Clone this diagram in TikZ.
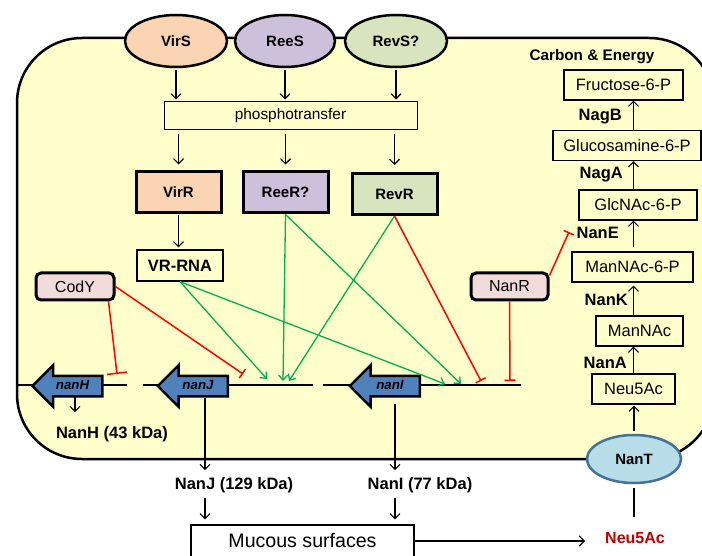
\documentclass[tikz,border=0pt]{standalone}
\usepackage{fontspec}
\setmainfont{Liberation Sans}
\usetikzlibrary{arrows.meta,shapes.geometric,shapes.arrows}

\definecolor{cellyellow}{RGB}{255,255,204}
\definecolor{virpeach}{RGB}{251,212,180}
\definecolor{reelilac}{RGB}{204,192,218}
\definecolor{revgreen}{RGB}{215,228,189}
\definecolor{reppink}{RGB}{242,220,219}
\definecolor{geneblue}{RGB}{79,129,189}
\definecolor{nantblue}{RGB}{183,222,232}
\definecolor{nantline}{RGB}{65,113,156}
\definecolor{actgreen}{RGB}{0,176,80}
\definecolor{darkred}{RGB}{192,0,0}

\tikzset{
  sensor/.style={ellipse,draw,line width=2.5pt,minimum width=102pt,minimum height=52pt,inner sep=0pt,font=\fontsize{15}{18}\selectfont\bfseries},
  regbox/.style={draw,line width=3pt,minimum width=85pt,minimum height=41pt,inner sep=0pt,font=\fontsize{15}{18}\selectfont\bfseries},
  repbox/.style={draw,rounded corners=5pt,line width=3pt,fill=reppink,minimum width=78pt,minimum height=27pt,inner sep=0pt,font=\fontsize{16}{19}\selectfont},
  sugar/.style={draw,line width=1.2pt,minimum height=30pt,inner sep=0pt,font=\fontsize{16.5}{19}\selectfont},
  enz/.style={anchor=east,inner sep=1pt,font=\fontsize{16.5}{19}\selectfont\bfseries},
  prot/.style={inner sep=1pt,font=\fontsize{16.5}{19}\selectfont\bfseries},
  gene/.style={single arrow,draw,line width=2.5pt,fill=geneblue,shape border rotate=180,single arrow head extend=10.5pt,minimum height=70pt,inner xsep=2pt,inner ysep=3pt,text height=9pt,text depth=3pt,font=\fontsize{13.3}{16}\selectfont\bfseries\itshape},
  flow/.style={line width=1.1pt,-{Straight Barb[length=5pt,width=10pt]}},
  act/.style={draw=actgreen,line width=1.3pt,-{Straight Barb[length=5pt,width=9pt]}},
  rep/.style={draw=red,line width=1.5pt,-{Bar[width=11pt]}}
}

\begin{document}
\begin{tikzpicture}[x=1pt,y=-1pt]
  \useasboundingbox (0,0) rectangle (702,556);
  \clip (0,0) rectangle (702,556);
  % cell
  \draw[line width=2.5pt,fill=cellyellow,rounded corners=65pt] (17,38) rectangle (714,459);

  % two-component systems
  \node[sensor,fill=virpeach] (virs) at (176,41) {VirS};
  \node[sensor,fill=reelilac,minimum width=100pt] (rees) at (285,41) {ReeS};
  \node[sensor,fill=revgreen] (revs) at (396,41) {RevS?};
  \node[draw,line width=1pt,minimum width=253pt,minimum height=28pt,font=\fontsize{15.4}{18}\selectfont] (phos) at (290.5,116) {phosphotransfer};
  \draw[flow,shorten <=2pt,shorten >=2pt] (virs.south) -- (virs.south |- phos.north);
  \draw[flow,shorten <=2pt,shorten >=2pt] (rees.south) -- (rees.south |- phos.north);
  \draw[flow,shorten <=2pt,shorten >=2pt] (revs.south) -- (revs.south |- phos.north);

  \node[regbox,fill=virpeach] (virr) at (178.5,192.5) {VirR};
  \node[regbox,fill=reelilac] (reer) at (285.5,192.5) {ReeR?};
  \node[regbox,fill=revgreen] (revr) at (394.5,194) {RevR};
  \draw[flow,shorten <=4pt,shorten >=6pt] (phos.south -| virr) -- (virr.north);
  \draw[flow,shorten <=4pt,shorten >=6pt] (phos.south -| reer) -- (reer.north);
  \draw[flow,shorten <=4pt,shorten >=7pt] (phos.south -| revr) -- (revr.north);

  \node[draw,line width=1.3pt,minimum width=86pt,minimum height=31pt,font=\fontsize{16.5}{19}\selectfont\bfseries] (vrrna) at (180,265.5) {VR-RNA};
  \draw[flow,shorten <=1pt,shorten >=2pt] (virr.south) -- (virr.south |- vrrna.north);

  \node[repbox] (cody) at (75,286.5) {CodY};
  \node[repbox,minimum width=77pt] (nanr) at (509.5,286.5) {NanR};

  % nan genes
  \draw[line width=1.5pt] (17,385) -- (127,385) (143,385) -- (313,385) (323,385) -- (521,385);
  \node[gene] (nanH) at (72.5,386) {nanH};
  \node[gene] (nanJ) at (198,386) {nanJ};
  \node[gene] (nanI) at (390,386) {nanI};

  \coordinate (tJa) at (267,379);
  \coordinate (tJb) at (283,381);
  \coordinate (tJc) at (289,381);
  \coordinate (tIa) at (445,384);
  \coordinate (tIb) at (461,384);
  \coordinate (bH) at (117,374);
  \coordinate (bJ) at (243,374);
  \coordinate (bIa) at (481,381);
  \coordinate (bIb) at (510,381);
  \coordinate (bE) at (569,232);

  \draw[act] (vrrna.south) -- (tJa);
  \draw[act] (vrrna.south) -- (tIa);
  \draw[act] (reer.south) -- (tJb);
  \draw[act] (reer.south) -- (tIb);
  \draw[act] (revr.south) -- (tJc);

  \draw[rep,-{Bar[width=20pt]}] ([xshift=-7pt]cody.south east) -- (bH);
  \draw[rep] (cody.east) -- (bJ);
  \draw[rep] (revr.south) -- (bIa);
  \draw[rep] (nanr.south) -- (bIb);
  \draw[rep] ([yshift=-4pt]nanr.north east) -- (bE);

  % products
  \node[prot] (lH) at (112,434) {NanH (43 kDa)};
  \node[prot] (lJ) at (234,485) {NanJ (129 kDa)};
  \node[prot] (lI) at (420,485) {NanI (77 kDa)};
  \node[draw,line width=1.2pt,minimum width=223pt,minimum height=32pt,font=\fontsize{19.6}{22}\selectfont] (muc) at (302.5,541) {Mucous surfaces};
  \draw[flow,shorten <=11pt,shorten >=13pt] ([xshift=2.5pt]nanH.center) -- ([xshift=2.5pt]nanH.center |- lH.north);
  \draw[flow,shorten <=12pt,shorten >=6pt] ([xshift=7pt]nanJ.center) -- ([xshift=7pt]nanJ.center |- lJ.north);
  \draw[flow,shorten <=4pt,shorten >=5pt] ([xshift=7pt]nanJ.center |- lJ.south) -- ([xshift=7pt]nanJ.center |- muc.north);
  \draw[flow,shorten <=18pt,shorten >=6pt] ([xshift=5pt]nanI.center) -- ([xshift=5pt]nanI.center |- lI.north);
  \draw[flow,shorten <=4pt,shorten >=5pt] ([xshift=5pt]nanI.center |- lI.south) -- ([xshift=5pt]nanI.center |- muc.north);

  % sialic acid uptake and catabolism
  \node[prot,font=\fontsize{16}{19}\selectfont\bfseries,text=darkred] (neuout) at (635,538) {Neu5Ac};
  \node[ellipse,draw=nantline,line width=2.5pt,fill=nantblue,minimum width=94pt,minimum height=48pt,inner sep=0pt,font=\fontsize{15}{18}\selectfont\bfseries] (nant) at (634,459) {NanT};
  \draw[flow,shorten >=19pt] (muc.east) -- (muc.east -| neuout.west);
  \draw[line width=1.1pt,shorten <=14pt,shorten >=4pt] (neuout.north -| nant) -- (nant.south);

  \node[font=\fontsize{15.3}{18}\selectfont\bfseries] (carb) at (592,57) {Carbon \& Energy};
  \node[sugar,minimum width=119pt] (fru) at (623.5,85) {Fructose-6-P};
  \node[sugar,minimum width=148pt] (glcn) at (627,145.5) {Glucosamine-6-P};
  \node[sugar,minimum width=118pt] (glcnac) at (638,205) {GlcNAc-6-P};
  \node[sugar,minimum width=121pt] (mannac6) at (632.5,267) {ManNAc-6-P};
  \node[sugar,minimum width=87pt] (mannac) at (639.5,331) {ManNAc};
  \node[sugar,minimum width=83pt] (neuin) at (633.5,389) {Neu5Ac};
  \draw[flow,shorten <=3pt,shorten >=1pt] (nant.north) -- (nant.north |- neuin.south);
  \draw[flow] (neuin.north) -- (neuin.north |- mannac.south);
  \draw[flow,shorten >=3pt] (mannac.north -| neuin) -- (neuin |- mannac6.south);
  \draw[flow,shorten <=4pt] (mannac6.north -| neuin) -- (neuin |- glcnac.south);
  \draw[flow] (glcnac.north -| neuin) -- (neuin |- glcn.south);
  \draw[flow] (glcn.north -| neuin) -- (neuin |- fru.south);
  \node[enz] (nana) at (628,363) {NanA};
  \node[enz] (nank) at (629,300) {NanK};
  \node[enz] (nane) at (620,233) {NanE};
  \node[enz] (naga) at (624,175) {NagA};
  \node[enz] (nagb) at (623,117) {NagB};
\end{tikzpicture}
\end{document}
